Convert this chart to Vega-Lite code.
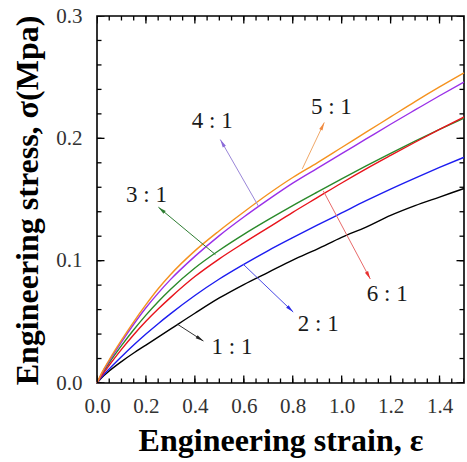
{
  "$schema": "https://vega.github.io/schema/vega-lite/v6.json",
  "width": 367,
  "height": 367,
  "autosize": "none",
  "padding": {"left": 97, "top": 16, "right": 3, "bottom": 79},
  "background": "white",
  "config": {
    "view": {"stroke": "black", "strokeWidth": 1.6},
    "axis": {"grid": false, "domain": false, "ticks": false, "tickSize": 0, "labelFont": "Liberation Serif", "labelFontSize": 21, "labelColor": "#333333", "titleFont": "Liberation Serif", "titleFontSize": 32, "titleFontWeight": "bold", "titleColor": "black", "labelOverlap": false, "labelFlush": false}
  },
  "datasets": {
    "curves": [
      {"s":"1 : 1","x":0,"y":0},{"s":"1 : 1","x":0.02,"y":0.0045},{"s":"1 : 1","x":0.05,"y":0.0098},{"s":"1 : 1","x":0.1,"y":0.0175},{"s":"1 : 1","x":0.15,"y":0.0245},{"s":"1 : 1","x":0.2,"y":0.031},{"s":"1 : 1","x":0.25,"y":0.0375},{"s":"1 : 1","x":0.3,"y":0.044},{"s":"1 : 1","x":0.4,"y":0.057},{"s":"1 : 1","x":0.5,"y":0.0695},{"s":"1 : 1","x":0.6,"y":0.0805},{"s":"1 : 1","x":0.7,"y":0.0905},{"s":"1 : 1","x":0.8,"y":0.1005},{"s":"1 : 1","x":0.9,"y":0.1095},{"s":"1 : 1","x":1.0,"y":0.119},{"s":"1 : 1","x":1.1,"y":0.1275},{"s":"1 : 1","x":1.2,"y":0.137},{"s":"1 : 1","x":1.3,"y":0.145},{"s":"1 : 1","x":1.4,"y":0.152},{"s":"1 : 1","x":1.5,"y":0.159},
      {"s":"2 : 1","x":0,"y":0},{"s":"2 : 1","x":0.02,"y":0.005},{"s":"2 : 1","x":0.05,"y":0.0115},{"s":"2 : 1","x":0.1,"y":0.0215},{"s":"2 : 1","x":0.15,"y":0.031},{"s":"2 : 1","x":0.2,"y":0.040},{"s":"2 : 1","x":0.25,"y":0.0485},{"s":"2 : 1","x":0.3,"y":0.0565},{"s":"2 : 1","x":0.4,"y":0.0715},{"s":"2 : 1","x":0.5,"y":0.085},{"s":"2 : 1","x":0.6,"y":0.097},{"s":"2 : 1","x":0.7,"y":0.1083},{"s":"2 : 1","x":0.8,"y":0.1188},{"s":"2 : 1","x":0.9,"y":0.129},{"s":"2 : 1","x":1.0,"y":0.139},{"s":"2 : 1","x":1.1,"y":0.149},{"s":"2 : 1","x":1.2,"y":0.1585},{"s":"2 : 1","x":1.3,"y":0.1675},{"s":"2 : 1","x":1.4,"y":0.1762},{"s":"2 : 1","x":1.5,"y":0.1845},
      {"s":"3 : 1","x":0,"y":0},{"s":"3 : 1","x":0.02,"y":0.0072},{"s":"3 : 1","x":0.05,"y":0.0165},{"s":"3 : 1","x":0.1,"y":0.0305},{"s":"3 : 1","x":0.15,"y":0.0435},{"s":"3 : 1","x":0.2,"y":0.0555},{"s":"3 : 1","x":0.25,"y":0.0665},{"s":"3 : 1","x":0.3,"y":0.0765},{"s":"3 : 1","x":0.4,"y":0.094},{"s":"3 : 1","x":0.5,"y":0.1085},{"s":"3 : 1","x":0.6,"y":0.1215},{"s":"3 : 1","x":0.7,"y":0.1335},{"s":"3 : 1","x":0.8,"y":0.145},{"s":"3 : 1","x":0.9,"y":0.156},{"s":"3 : 1","x":1.0,"y":0.1668},{"s":"3 : 1","x":1.1,"y":0.1774},{"s":"3 : 1","x":1.2,"y":0.1877},{"s":"3 : 1","x":1.3,"y":0.1977},{"s":"3 : 1","x":1.4,"y":0.2073},{"s":"3 : 1","x":1.5,"y":0.2165},
      {"s":"6 : 1","x":0,"y":0},{"s":"6 : 1","x":0.02,"y":0.0062},{"s":"6 : 1","x":0.05,"y":0.0145},{"s":"6 : 1","x":0.1,"y":0.0275},{"s":"6 : 1","x":0.15,"y":0.0395},{"s":"6 : 1","x":0.2,"y":0.0505},{"s":"6 : 1","x":0.25,"y":0.0605},{"s":"6 : 1","x":0.3,"y":0.0698},{"s":"6 : 1","x":0.4,"y":0.087},{"s":"6 : 1","x":0.5,"y":0.1015},{"s":"6 : 1","x":0.6,"y":0.1145},{"s":"6 : 1","x":0.7,"y":0.127},{"s":"6 : 1","x":0.8,"y":0.1395},{"s":"6 : 1","x":0.9,"y":0.1515},{"s":"6 : 1","x":1.0,"y":0.1635},{"s":"6 : 1","x":1.1,"y":0.175},{"s":"6 : 1","x":1.2,"y":0.186},{"s":"6 : 1","x":1.3,"y":0.1968},{"s":"6 : 1","x":1.4,"y":0.2073},{"s":"6 : 1","x":1.5,"y":0.2175},
      {"s":"4 : 1","x":0,"y":0},{"s":"4 : 1","x":0.02,"y":0.008},{"s":"4 : 1","x":0.05,"y":0.018},{"s":"4 : 1","x":0.1,"y":0.0335},{"s":"4 : 1","x":0.15,"y":0.048},{"s":"4 : 1","x":0.2,"y":0.0615},{"s":"4 : 1","x":0.25,"y":0.0735},{"s":"4 : 1","x":0.3,"y":0.0845},{"s":"4 : 1","x":0.4,"y":0.1035},{"s":"4 : 1","x":0.5,"y":0.1205},{"s":"4 : 1","x":0.6,"y":0.1357},{"s":"4 : 1","x":0.7,"y":0.1499},{"s":"4 : 1","x":0.8,"y":0.1634},{"s":"4 : 1","x":0.9,"y":0.1755},{"s":"4 : 1","x":1.0,"y":0.1875},{"s":"4 : 1","x":1.1,"y":0.1995},{"s":"4 : 1","x":1.2,"y":0.2115},{"s":"4 : 1","x":1.3,"y":0.2232},{"s":"4 : 1","x":1.4,"y":0.2348},{"s":"4 : 1","x":1.5,"y":0.246},
      {"s":"5 : 1","x":0,"y":0},{"s":"5 : 1","x":0.02,"y":0.0085},{"s":"5 : 1","x":0.05,"y":0.019},{"s":"5 : 1","x":0.1,"y":0.035},{"s":"5 : 1","x":0.15,"y":0.050},{"s":"5 : 1","x":0.2,"y":0.064},{"s":"5 : 1","x":0.25,"y":0.077},{"s":"5 : 1","x":0.3,"y":0.0885},{"s":"5 : 1","x":0.4,"y":0.108},{"s":"5 : 1","x":0.5,"y":0.1245},{"s":"5 : 1","x":0.6,"y":0.1398},{"s":"5 : 1","x":0.7,"y":0.1545},{"s":"5 : 1","x":0.8,"y":0.168},{"s":"5 : 1","x":0.9,"y":0.180},{"s":"5 : 1","x":1.0,"y":0.1925},{"s":"5 : 1","x":1.1,"y":0.205},{"s":"5 : 1","x":1.2,"y":0.2175},{"s":"5 : 1","x":1.3,"y":0.230},{"s":"5 : 1","x":1.4,"y":0.242},{"s":"5 : 1","x":1.5,"y":0.2535}
    ],
    "notes": [
      {"s":"1 : 1","x1":0.329,"y1":0.048,"x2":0.435,"y2":0.0343,"tx":0.552,"ty":0.0294},
      {"s":"2 : 1","x1":0.598,"y1":0.097,"x2":0.802,"y2":0.058,"tx":0.904,"ty":0.048},
      {"s":"3 : 1","x1":0.484,"y1":0.105,"x2":0.251,"y2":0.1437,"tx":0.202,"ty":0.154},
      {"s":"4 : 1","x1":0.660,"y1":0.1445,"x2":0.504,"y2":0.199,"tx":0.471,"ty":0.214},
      {"s":"5 : 1","x1":0.839,"y1":0.175,"x2":0.929,"y2":0.213,"tx":0.958,"ty":0.226},
      {"s":"6 : 1","x1":0.925,"y1":0.157,"x2":1.117,"y2":0.085,"tx":1.186,"ty":0.0727}
    ],
    "xminor": [{"v":0},{"v":0.05},{"v":0.1},{"v":0.15},{"v":0.2},{"v":0.25},{"v":0.3},{"v":0.35},{"v":0.4},{"v":0.45},{"v":0.5},{"v":0.55},{"v":0.6},{"v":0.65},{"v":0.7},{"v":0.75},{"v":0.8},{"v":0.85},{"v":0.9},{"v":0.95},{"v":1.0},{"v":1.05},{"v":1.1},{"v":1.15},{"v":1.2},{"v":1.25},{"v":1.3},{"v":1.35},{"v":1.4},{"v":1.45},{"v":1.5}],
    "xmajor": [{"v":0},{"v":0.2},{"v":0.4},{"v":0.6},{"v":0.8},{"v":1.0},{"v":1.2},{"v":1.4}],
    "yminor": [{"v":0},{"v":0.02},{"v":0.04},{"v":0.06},{"v":0.08},{"v":0.1},{"v":0.12},{"v":0.14},{"v":0.16},{"v":0.18},{"v":0.2},{"v":0.22},{"v":0.24},{"v":0.26},{"v":0.28},{"v":0.3}],
    "ymajor": [{"v":0},{"v":0.1},{"v":0.2},{"v":0.3}]
  },
  "layer": [
    {
      "data": {"name": "curves"},
      "mark": {"type": "line", "strokeWidth": 1.4, "interpolate": "monotone"},
      "encoding": {
        "x": {"field": "x", "type": "quantitative", "scale": {"domain": [0, 1.5], "nice": false},
          "axis": {"orient": "bottom", "values": [0,0.2,0.4,0.6,0.8,1.0,1.2,1.4],
            "format": ".1f", "ticks": false, "tickSize": 0, "labelPadding": 12, "labelFont": "Liberation Serif",
            "title": "Engineering strain, ε", "titleBaseline": "alphabetic", "titleY": 67}},
        "y": {"field": "y", "type": "quantitative", "scale": {"domain": [0, 0.3], "nice": false},
          "axis": {"orient": "left", "values": [0,0.1,0.2,0.3],
            "format": ".1f", "ticks": false, "tickSize": 0, "labelPadding": 15, "labelFont": "Liberation Serif",
            "title": "Engineering stress, σ(Mpa)", "titleAngle": -90, "titleBaseline": "alphabetic", "titleX": -60, "titleY": 184}},
        "color": {"field": "s", "type": "nominal", "legend": null,
          "scale": {"domain": ["1 : 1","2 : 1","3 : 1","4 : 1","5 : 1","6 : 1"], "range": ["#000000","#1c1cf0","#2a8a2a","#9a30e8","#f5921e","#e8131b"]}}
      }
    },
    {
      "data": {"name": "notes"},
      "mark": {"type": "rule", "strokeWidth": 1},
      "encoding": {
        "x": {"field": "x1", "type": "quantitative", "scale": {"domain": [0, 1.5], "nice": false}, "axis": null},
        "y": {"field": "y1", "type": "quantitative", "scale": {"domain": [0, 0.3], "nice": false}, "axis": null},
        "x2": {"field": "x2"},
        "y2": {"field": "y2"},
        "color": {"field": "s", "type": "nominal", "legend": null,
          "scale": {"domain": ["1 : 1","2 : 1","3 : 1","4 : 1","5 : 1","6 : 1"], "range": ["#333333","#4a4ae6","#2e7d32","#9a86d8","#f0a868","#e86a6a"]}}
      }
    },
    {
      "data": {"name": "notes"},
      "transform": [{"calculate": "atan2((datum.x2-datum.x1)*244.67, (datum.y2-datum.y1)*1223.3)*180/PI", "as": "ang"}],
      "mark": {"type": "point", "shape": "M0,0L0.38,1.7L-0.38,1.7Z", "filled": true, "size": 90, "opacity": 1, "strokeWidth": 0},
      "encoding": {
        "x": {"field": "x2", "type": "quantitative", "scale": {"domain": [0, 1.5], "nice": false}, "axis": null},
        "y": {"field": "y2", "type": "quantitative", "scale": {"domain": [0, 0.3], "nice": false}, "axis": null},
        "angle": {"field": "ang", "type": "quantitative", "scale": null},
        "color": {"field": "s", "type": "nominal", "legend": null,
          "scale": {"domain": ["1 : 1","2 : 1","3 : 1","4 : 1","5 : 1","6 : 1"], "range": ["#222222","#2a2ae6","#2e7d32","#8a6ad8","#f08a40","#e83030"]}}
      }
    },
    {
      "data": {"name": "notes"},
      "mark": {"type": "text", "font": "Liberation Serif", "fontSize": 23, "color": "#1a1a1a", "align": "center", "baseline": "middle"},
      "encoding": {
        "x": {"field": "tx", "type": "quantitative", "scale": {"domain": [0, 1.5], "nice": false}, "axis": null},
        "y": {"field": "ty", "type": "quantitative", "scale": {"domain": [0, 0.3], "nice": false}, "axis": null},
        "text": {"field": "s"}
      }
    },
    {
      "data": {"name": "xminor"},
      "mark": {"type": "tick", "orient": "vertical", "size": 9, "thickness": 1.3, "color": "black", "opacity": 1, "clip": true},
      "encoding": {
        "x": {"field": "v", "type": "quantitative", "scale": {"domain": [0, 1.5], "nice": false}, "axis": null},
        "y": {"datum": 0, "type": "quantitative", "scale": {"domain": [0, 0.3], "nice": false}, "axis": null}
      }
    },
    {
      "data": {"name": "xminor"},
      "mark": {"type": "tick", "orient": "vertical", "size": 9, "thickness": 1.3, "color": "black", "opacity": 1, "clip": true},
      "encoding": {
        "x": {"field": "v", "type": "quantitative", "scale": {"domain": [0, 1.5], "nice": false}, "axis": null},
        "y": {"datum": 0.3, "type": "quantitative", "scale": {"domain": [0, 0.3], "nice": false}, "axis": null}
      }
    },
    {
      "data": {"name": "xmajor"},
      "mark": {"type": "tick", "orient": "vertical", "size": 15, "thickness": 1.3, "color": "black", "opacity": 1, "clip": true},
      "encoding": {
        "x": {"field": "v", "type": "quantitative", "scale": {"domain": [0, 1.5], "nice": false}, "axis": null},
        "y": {"datum": 0, "type": "quantitative", "scale": {"domain": [0, 0.3], "nice": false}, "axis": null}
      }
    },
    {
      "data": {"name": "xmajor"},
      "mark": {"type": "tick", "orient": "vertical", "size": 15, "thickness": 1.3, "color": "black", "opacity": 1, "clip": true},
      "encoding": {
        "x": {"field": "v", "type": "quantitative", "scale": {"domain": [0, 1.5], "nice": false}, "axis": null},
        "y": {"datum": 0.3, "type": "quantitative", "scale": {"domain": [0, 0.3], "nice": false}, "axis": null}
      }
    },
    {
      "data": {"name": "yminor"},
      "mark": {"type": "tick", "orient": "horizontal", "size": 9, "thickness": 1.3, "color": "black", "opacity": 1, "clip": true},
      "encoding": {
        "x": {"datum": 0, "type": "quantitative", "scale": {"domain": [0, 1.5], "nice": false}, "axis": null},
        "y": {"field": "v", "type": "quantitative", "scale": {"domain": [0, 0.3], "nice": false}, "axis": null}
      }
    },
    {
      "data": {"name": "yminor"},
      "mark": {"type": "tick", "orient": "horizontal", "size": 9, "thickness": 1.3, "color": "black", "opacity": 1, "clip": true},
      "encoding": {
        "x": {"datum": 1.5, "type": "quantitative", "scale": {"domain": [0, 1.5], "nice": false}, "axis": null},
        "y": {"field": "v", "type": "quantitative", "scale": {"domain": [0, 0.3], "nice": false}, "axis": null}
      }
    },
    {
      "data": {"name": "ymajor"},
      "mark": {"type": "tick", "orient": "horizontal", "size": 15, "thickness": 1.3, "color": "black", "opacity": 1, "clip": true},
      "encoding": {
        "x": {"datum": 0, "type": "quantitative", "scale": {"domain": [0, 1.5], "nice": false}, "axis": null},
        "y": {"field": "v", "type": "quantitative", "scale": {"domain": [0, 0.3], "nice": false}, "axis": null}
      }
    },
    {
      "data": {"name": "ymajor"},
      "mark": {"type": "tick", "orient": "horizontal", "size": 15, "thickness": 1.3, "color": "black", "opacity": 1, "clip": true},
      "encoding": {
        "x": {"datum": 1.5, "type": "quantitative", "scale": {"domain": [0, 1.5], "nice": false}, "axis": null},
        "y": {"field": "v", "type": "quantitative", "scale": {"domain": [0, 0.3], "nice": false}, "axis": null}
      }
    }
  ],
  "resolve": {"axis": {"x": "independent", "y": "independent"}, "scale": {"color": "independent"}}
}
